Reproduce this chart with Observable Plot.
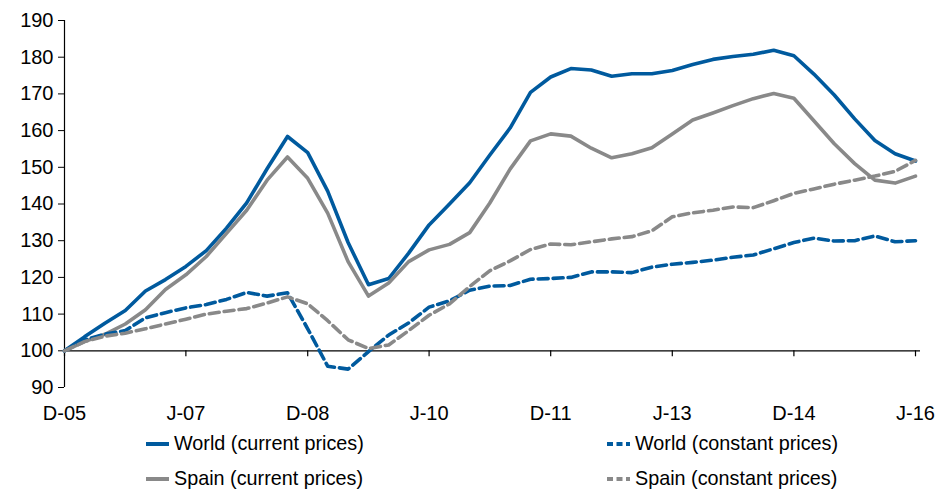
<!DOCTYPE html>
<html><head><meta charset="utf-8">
<script src="https://cdn.jsdelivr.net/npm/d3@7"></script>
<script src="https://cdn.jsdelivr.net/npm/@observablehq/plot@0.6"></script>
<style>
body{margin:0;background:#fff;font-family:Arial,"Liberation Sans",sans-serif;}
#wrap{position:relative;width:940px;height:489px;overflow:hidden;}
.item{position:absolute;display:flex;align-items:center;white-space:nowrap;font-size:19.8px;color:#000;line-height:1;}
.item svg{margin-right:5px;}
</style></head><body><div id="wrap"></div>
<script>
// Quarterly index values, Dec 2005 = 100
const firstQuarter = "2005-12-01";
const worldCurrent = [100,103.8,107.5,111,116.3,119.4,123,127.3,133.4,140.3,149.6,158.4,154,143.5,129.5,118,119.7,126.6,134.3,140,145.8,153.3,160.7,170.4,174.6,176.9,176.5,174.8,175.5,175.5,176.4,178,179.4,180.2,180.8,181.9,180.4,175.4,169.7,163.2,157.3,153.7,151.7];
const worldConstant = [100,103,104.5,105.5,109,110.4,111.7,112.6,114,115.9,114.9,115.8,106,95.8,95,99.8,104.3,107.6,111.9,113.6,116.5,117.6,117.8,119.5,119.7,120,121.5,121.5,121.3,122.8,123.6,124.1,124.7,125.5,126.1,127.8,129.5,130.7,129.9,130,131.3,129.7,130];
const spainCurrent = [100,102.5,104.5,107.3,111.2,116.7,120.7,125.7,132,138.3,146.5,152.8,147,137.5,124.3,114.9,118.5,124.3,127.5,129,132.2,140.2,149.5,157.2,159.1,158.5,155.2,152.6,153.7,155.3,159.1,162.9,164.8,166.8,168.7,170.1,168.8,162.7,156.4,151,146.5,145.7,147.6];
const spainConstant = [100,102.5,104,104.8,106,107.3,108.6,110,110.8,111.5,113,114.7,112.8,108.2,103,100.6,101.6,105.5,109.7,112.8,117.5,121.8,124.5,127.6,129.1,128.9,129.7,130.5,131.1,132.7,136.5,137.6,138.3,139.2,139,140.9,142.9,144.1,145.4,146.5,147.6,148.9,151.9];
const tickQuarters = ["2005-12-01","2007-06-01","2008-12-01","2010-06-01","2011-12-01","2013-06-01","2014-12-01","2016-06-01"];
const tickLabels = ["D-05","J-07","D-08","J-10","D-11","J-13","D-14","J-16"];
const yTicks = [90,100,110,120,130,140,150,160,170,180,190];
const seriesNames = ["World (current prices)","World (constant prices)","Spain (current prices)","Spain (constant prices)"];
const seriesColors = ["#005A9E","#005A9E","#898989","#898989"];
const seriesDashed = [false,true,false,true];

const start = new Date(firstQuarter + "T00:00:00Z");
const quarters = worldCurrent.map((_, i) => d3.utcMonth.offset(start, 3 * i));
const tickDates = tickQuarters.map(s => new Date(s + "T00:00:00Z"));
const labelOf = new Map(tickDates.map((d, i) => [+d, tickLabels[i]]));
const valueArrays = [worldCurrent, worldConstant, spainCurrent, spainConstant];

const lineMarks = [0, 2, 1, 3].map(k =>
  Plot.line(valueArrays[k].map((v, i) => ({date: quarters[i], value: v})), {
    x: "date", y: "value", stroke: seriesColors[k], strokeWidth: 3.6,
    strokeDasharray: seriesDashed[k] ? "10,5" : null, strokeLinejoin: "round"
  })
);

const chart = Plot.plot({
  width: 940, height: 428,
  marginLeft: 64, marginRight: 25, marginTop: 20, marginBottom: 41,
  style: {fontFamily: "Arial, 'Liberation Sans', sans-serif", fontSize: "20px", color: "#000", background: "#fff"},
  x: {type: "utc", domain: [quarters[0], quarters[quarters.length - 1]]},
  y: {domain: [90, 190]},
  marks: [
    Plot.axisY(yTicks, {tickSize: 6, tickPadding: 5, label: null, stroke: "#000"}),
    Plot.axisX(tickDates, {anchor: "bottom", tickSize: 0, tickPadding: 18, label: null, tickFormat: d => labelOf.get(+d)}),
    Plot.ruleX([quarters[0]], {stroke: "#000", strokeWidth: 1.2}),
    Plot.ruleY([100], {stroke: "#000", strokeWidth: 1.2, insetRight: -5}),
    Plot.ruleX(tickDates, {y1: 100, y2: 100, insetBottom: -6, stroke: "#000", strokeWidth: 1.2}),
    ...lineMarks
  ]
});

const wrap = document.getElementById("wrap");
wrap.appendChild(chart);

// Legend
const legendPos = [[146, 444], [607, 444], [146, 479], [607, 479]];
seriesNames.forEach((name, k) => {
  const item = document.createElement("div");
  item.className = "item";
  item.style.left = legendPos[k][0] + "px";
  item.style.top = (legendPos[k][1] - 10) + "px";
  const dash = seriesDashed[k] ? 'stroke-dasharray="6,3.5"' : "";
  item.innerHTML = `<svg width="23" height="20"><line x1="0" x2="23" y1="10" y2="10" stroke="${seriesColors[k]}" stroke-width="4" ${dash}/></svg><span>${name}</span>`;
  wrap.appendChild(item);
});
</script></body></html>
